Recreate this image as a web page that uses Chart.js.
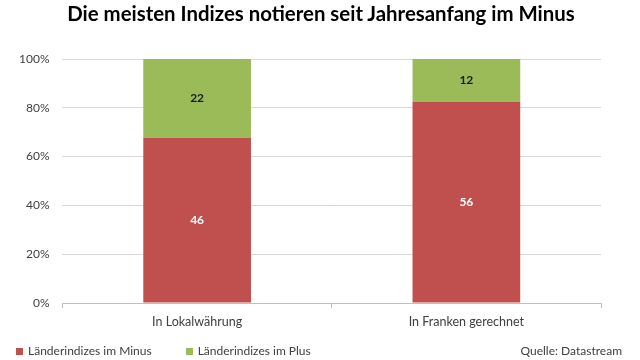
<!DOCTYPE html>
<html><head><meta charset="utf-8">
<script src="https://cdn.jsdelivr.net/npm/chart.js@4"></script>
<style>
html,body{margin:0;padding:0;background:#fff;}
#wrap{position:relative;width:640px;height:360px;overflow:hidden;}
#c{position:absolute;left:0;top:0;}
#title{position:absolute;left:0;width:642px;top:1px;text-align:center;font:bold 20.4px Lato, sans-serif;line-height:24px;color:#000;white-space:nowrap;}
#legend{position:absolute;left:16px;top:343px;font:12px Lato, sans-serif;line-height:16px;color:#404040;white-space:nowrap;}
#legend span.item{display:inline-block;margin-right:34px;}
#legend i{display:inline-block;width:7px;height:7px;margin-right:5px;vertical-align:0px;}
#src{position:absolute;right:18px;top:343px;font:12px Lato, sans-serif;line-height:16px;color:#404040;}
</style></head>
<body>
<div id="wrap">
<canvas id="c" width="640" height="360"></canvas>
<div id="title">Die meisten Indizes notieren seit Jahresanfang im Minus</div>
<div id="legend"></div>
<div id="src">Quelle: Datastream</div>
</div>
<script>
const categories = ["In Lokalwährung", "In Franken gerechnet"];
const minusCounts = [46, 56];
const plusCounts = [22, 12];
const seriesNames = ["Länderindizes im Minus", "Länderindizes im Plus"];
const seriesColors = ["#C0504D", "#9BBB59"];
const yTicks = [0, 20, 40, 60, 80, 100];

const totals = categories.map((_, i) => minusCounts[i] + plusCounts[i]);
const minusPct = minusCounts.map((v, i) => v / totals[i] * 100);
const plusPct = plusCounts.map((v, i) => v / totals[i] * 100);

const labelPlugin = {
  id: 'barLabels',
  afterDatasetsDraw(chart) {
    const ctx = chart.ctx;
    chart.data.datasets.forEach((ds, di) => {
      const meta = chart.getDatasetMeta(di);
      meta.data.forEach((bar, i) => {
        const p = bar.getProps(['x', 'y', 'base'], true);
        ctx.save();
        ctx.font = 'bold 12px Lato, sans-serif';
        ctx.fillStyle = ds.labelColor;
        ctx.textAlign = 'center';
        ctx.textBaseline = 'middle';
        ctx.fillText(String(ds.counts[i]), p.x, (p.y + p.base) / 2);
        ctx.restore();
      });
    });
  }
};

const chart = new Chart(document.getElementById('c'), {
  type: 'bar',
  data: {
    labels: categories,
    datasets: [
      { label: seriesNames[0], data: minusPct, counts: minusCounts, backgroundColor: seriesColors[0], labelColor: '#ffffff', barPercentage: 0.4, categoryPercentage: 1 },
      { label: seriesNames[1], data: plusPct, counts: plusCounts, backgroundColor: seriesColors[1], labelColor: '#1a1a1a', barPercentage: 0.4, categoryPercentage: 1 }
    ]
  },
  options: {
    responsive: false,
    animation: false,
    layout: { padding: { left: 6, right: 39, top: 59, bottom: 25 } },
    plugins: {
      tooltip: { enabled: false },
      title: { display: false },
      legend: { display: false }
    },
    scales: {
      x: {
        stacked: true,
        grid: { offset: true, drawOnChartArea: false, color: '#bfbfbf', tickLength: 5 },
        border: { color: '#bfbfbf' },
        ticks: { color: '#404040', font: { family: 'Lato', size: 12.5 }, padding: 6 }
      },
      y: {
        stacked: true, min: 0, max: 100,
        afterBuildTicks(axis) { axis.ticks = yTicks.map(v => ({ value: v })); },
        grid: { color: '#d9d9d9', drawTicks: false },
        border: { display: false },
        ticks: { color: '#404040', font: { family: 'Lato', size: 12 }, padding: 13, callback: v => v + '%' }
      }
    }
  },
  plugins: [labelPlugin]
});

const legend = document.getElementById('legend');
chart.data.datasets.forEach((ds) => {
  const item = document.createElement('span');
  item.className = 'item';
  const box = document.createElement('i');
  box.style.background = ds.backgroundColor;
  item.appendChild(box);
  item.appendChild(document.createTextNode(ds.label));
  legend.appendChild(item);
});
</script>
</body></html>
